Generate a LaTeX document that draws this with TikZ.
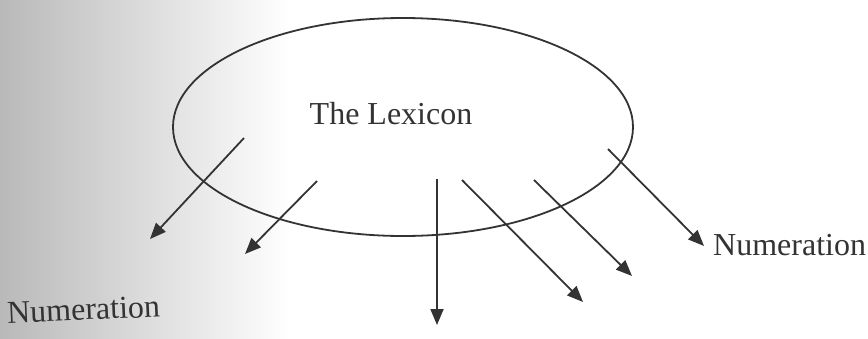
\documentclass[tikz,border=0pt]{standalone}
\usepackage{fontspec}
\setmainfont{Liberation Serif}
\usetikzlibrary{arrows.meta,shapes.geometric}
\definecolor{ink}{HTML}{333333}
\tikzset{
  lexring/.style={draw=ink, line width=1.8pt, ellipse, inner sep=0pt, minimum width=460pt, minimum height=218pt},
  lbl/.style={text=ink, inner sep=0pt, font=\fontsize{32}{38}\selectfont},
  feed/.style={draw=ink, line width=1.8pt, -{Triangle[length=16pt,width=13pt]}}
}
\begin{document}
\begin{tikzpicture}[x=1pt,y=-1pt]
\useasboundingbox (0,0) rectangle (868,338);
\fill[white] (0,0) rectangle (868,338);
\shade[left color=gray!55, right color=white] (0,0) rectangle (290,338);
\node[lexring] (lex) at (403,127) {};
\node[lbl, anchor=base] (title) at (391,124) {The Lexicon};
\node[lbl, anchor=base west] (numR) at (713,255) {Numeration};
\node[lbl, anchor=base, rotate=2.5] (numL) at (84,320) {Numeration};
\coordinate (s1) at (244,138); \coordinate (e1) at (150,239);
\coordinate (s2) at (317,181); \coordinate (e2) at (245,254);
\coordinate (s3) at (437,179); \coordinate (e3) at (437,325);
\coordinate (s4) at (462,180); \coordinate (e4) at (583,302);
\coordinate (s5) at (534,180); \coordinate (e5) at (632,276);
\coordinate (s6) at (608,149); \coordinate (e6) at (704,246);
\draw[feed] (s1) -- (e1);
\draw[feed] (s2) -- (e2);
\draw[feed] (s3) -- (e3);
\draw[feed] (s4) -- (e4);
\draw[feed] (s5) -- (e5);
\draw[feed] (s6) -- (e6);
\end{tikzpicture}
\end{document}
